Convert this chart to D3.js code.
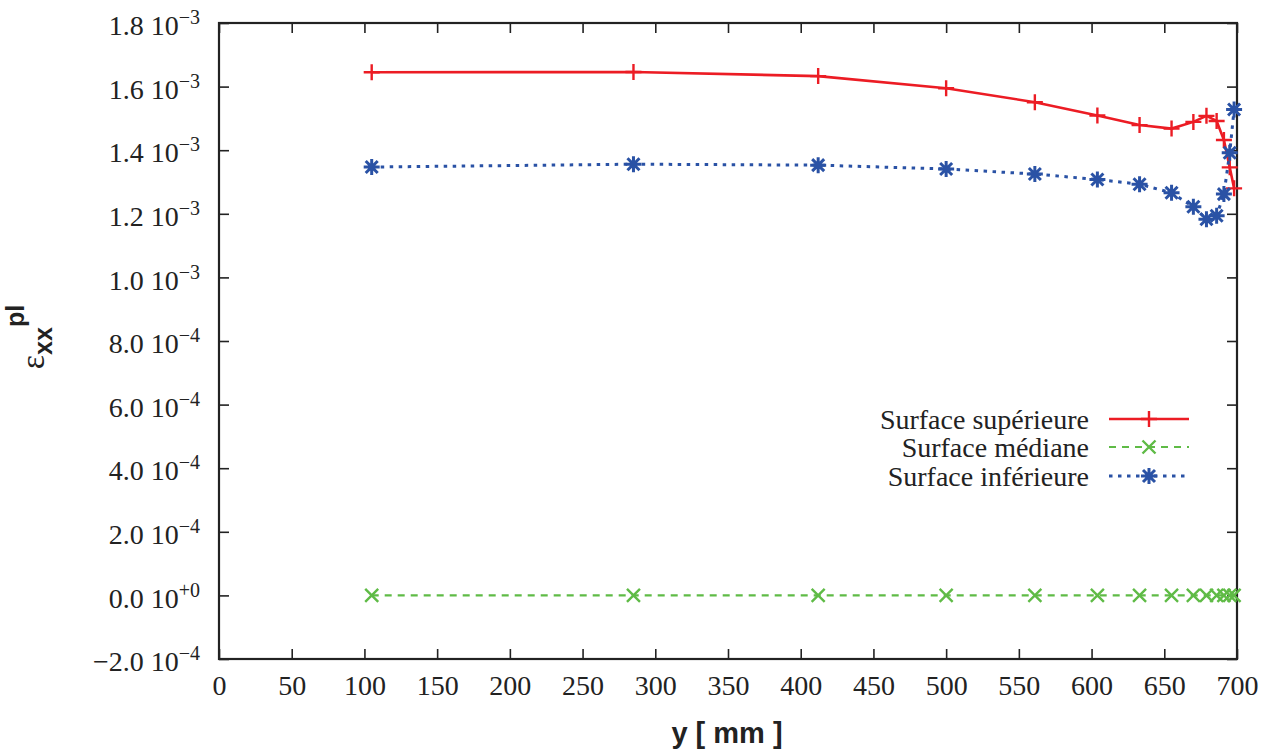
<!DOCTYPE html>
<html>
<head>
<meta charset="utf-8">
<script src="https://cdn.jsdelivr.net/npm/d3@7"></script>
<style>
  html, body { margin: 0; padding: 0; background: #fff; }
  svg { display: block; }
  .serif { font-family: "Liberation Serif", "Times New Roman", "DejaVu Serif", serif; }
  .sans { font-family: "Liberation Sans", Arial, sans-serif; }
</style>
</head>
<body>
<svg id="chart" width="1271" height="751"></svg>
<script>
// ---- data ----
const yPos = [105, 285, 412, 500, 561, 604, 633, 655, 670, 679, 686, 691, 695, 698];
const superieure = [1.645e-3, 1.646e-3, 1.633e-3, 1.595e-3, 1.551e-3, 1.509e-3, 1.479e-3, 1.468e-3, 1.489e-3, 1.508e-3, 1.492e-3, 1.432e-3, 1.346e-3, 1.280e-3];
const mediane    = [0, 0, 0, 0, 0, 0, 0, 0, 0, 0, 0, 0, 0, 0];
const inferieure = [1.347e-3, 1.356e-3, 1.353e-3, 1.341e-3, 1.325e-3, 1.308e-3, 1.293e-3, 1.266e-3, 1.222e-3, 1.183e-3, 1.194e-3, 1.262e-3, 1.392e-3, 1.528e-3];

const xTicks = [0, 50, 100, 150, 200, 250, 300, 350, 400, 450, 500, 550, 600, 650, 700];
const yTicks = [-2e-4, 0, 2e-4, 4e-4, 6e-4, 8e-4, 1.0e-3, 1.2e-3, 1.4e-3, 1.6e-3, 1.8e-3];
const yTickMantissa = ["\u22122.0", "0.0", "2.0", "4.0", "6.0", "8.0", "1.0", "1.2", "1.4", "1.6", "1.8"];
const yTickExponent = ["\u22124", "+0", "\u22124", "\u22124", "\u22124", "\u22124", "\u22123", "\u22123", "\u22123", "\u22123", "\u22123"];

const seriesNames = ["Surface supérieure", "Surface médiane", "Surface inférieure"];
const seriesColors = ["#ec1c24", "#5fbb46", "#2a52a5"];

// ---- layout ----
const L = 219, R = 1237, T = 23, B = 659;
const svg = d3.select("#chart");
const x = d3.scaleLinear().domain([0, 700]).range([L, R]);
const y = d3.scaleLinear().domain([-2e-4, 1.8e-3]).range([B, T]);

// axes
const gx = svg.append("g").attr("transform", `translate(0,${B})`)
  .call(d3.axisBottom(x).tickValues(xTicks).tickSize(-10).tickPadding(16).tickFormat(d3.format("d")));
const gxTop = svg.append("g").attr("transform", `translate(0,${T})`)
  .call(d3.axisTop(x).tickValues(xTicks).tickSize(-10).tickFormat(""));
const gy = svg.append("g").attr("transform", `translate(${L},0)`)
  .call(d3.axisLeft(y).tickValues(yTicks).tickSize(-10).tickPadding(19).tickFormat(""));
const gyR = svg.append("g").attr("transform", `translate(${R},0)`)
  .call(d3.axisRight(y).tickValues(yTicks).tickSize(-10).tickFormat(""));

[gx, gxTop, gy, gyR].forEach(g => {
  g.attr("font-family", null).attr("font-size", null);
  g.select(".domain").remove();
  g.selectAll(".tick line").attr("stroke", "#222").attr("stroke-width", 1.6);
});
gx.selectAll(".tick text").attr("class", "serif")
  .style("font-size", "28px").attr("fill", "#222");

// custom y tick labels with superscript exponents
gy.selectAll(".tick").each(function(d, i) {
  const t = d3.select(this).select("text");
  t.attr("class", "serif").style("font-size", "28px").attr("fill", "#222")
   .attr("x", -19).attr("dy", "0.42em").attr("text-anchor", "end");
  t.text(null);
  t.append("tspan").text(yTickMantissa[i] + " 10");
  t.append("tspan").style("font-size", "20px").attr("dy", "-0.55em").text(yTickExponent[i]);
});

// frame
svg.append("rect").attr("x", L).attr("y", T).attr("width", R - L).attr("height", B - T)
  .attr("fill", "none").attr("stroke", "#222").attr("stroke-width", 2.2);

// markers
const plusPath = "M-8,0H8M0,-8V8";
const crossPath = "M-6.5,-6.5L6.5,6.5M-6.5,6.5L6.5,-6.5";
const starPath = "M-8,0H8M0,-8V8M-6,-6L6,6M-6,6L6,-6";
const markers = [plusPath, crossPath, starPath];
const dashes = [null, "7,6", "3.5,5.5"];
const widths = [2.6, 2.2, 3];
const seriesData = [superieure, mediane, inferieure];

const line = d3.line().x(d => x(d[0])).y(d => y(d[1]));

seriesData.forEach((vals, s) => {
  const pts = yPos.map((p, i) => [p, vals[i]]);
  const g = svg.append("g");
  g.append("path").datum(pts).attr("d", line)
    .attr("fill", "none").attr("stroke", seriesColors[s])
    .attr("stroke-width", widths[s]).attr("stroke-dasharray", dashes[s]);
  g.selectAll("path.m").data(pts).enter().append("path").attr("class", "m")
    .attr("transform", d => `translate(${x(d[0])},${y(d[1])})`)
    .attr("d", markers[s]).attr("fill", "none")
    .attr("stroke", seriesColors[s]).attr("stroke-width", s === 2 ? 3 : 2.4);
});

// legend
const legY = [419, 447, 476];
seriesNames.forEach((name, s) => {
  svg.append("text").attr("x", 1089).attr("y", legY[s]).attr("dy", "0.35em")
    .attr("text-anchor", "end").attr("class", "serif").style("font-size", "28px")
    .attr("fill", "#222").text(name);
  svg.append("line").attr("x1", 1109).attr("x2", 1189).attr("y1", legY[s]).attr("y2", legY[s])
    .attr("stroke", seriesColors[s]).attr("stroke-width", widths[s])
    .attr("stroke-dasharray", dashes[s]);
  svg.append("path").attr("transform", `translate(1149,${legY[s]})`)
    .attr("d", markers[s]).attr("fill", "none")
    .attr("stroke", seriesColors[s]).attr("stroke-width", s === 2 ? 3 : 2.4);
});

// x axis label
svg.append("text").attr("x", 727).attr("y", 743).attr("text-anchor", "middle")
  .attr("class", "sans").style("font-weight", "bold").style("font-size", "29px")
  .attr("fill", "#222").text("y [ mm ]");

// y axis label (rotated)
const yl = svg.append("text").attr("transform", "translate(44,337) rotate(-90)")
  .attr("text-anchor", "middle").attr("fill", "#222");
yl.append("tspan").attr("class", "serif").style("font-size", "34px").text("ε");
yl.append("tspan").attr("class", "sans").style("font-weight", "bold").style("font-size", "25px")
  .attr("dy", "0.3em").text("xx");
yl.append("tspan").attr("class", "sans").style("font-weight", "bold").style("font-size", "25px")
  .attr("dy", "-1.1em").text("pl");
</script>
</body>
</html>
